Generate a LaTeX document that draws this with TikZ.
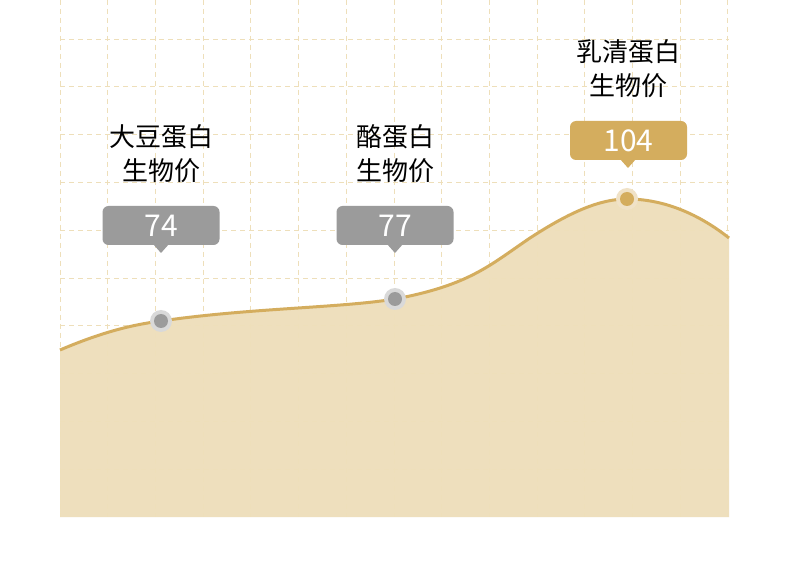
\documentclass[tikz,border=0pt]{standalone}
\usepackage{fontspec}
\setmainfont{Noto Sans CJK SC}
\definecolor{gold}{HTML}{D4AD5E}
\definecolor{fillc}{HTML}{EEDFBD}
\definecolor{gridc}{HTML}{EEDFBA}
\definecolor{pt}{HTML}{9B9B9B}
\begin{document}
\begin{tikzpicture}[x=1pt,y=-1pt,
  lab/.style={align=center,font=\fontsize{26}{34}\selectfont,text=black},
  valbox/.style={rounded corners=6pt,minimum width=117pt,minimum height=39pt,inner sep=0pt,text=white,font=\fontsize{30}{30}\selectfont},
  gridline/.style={gridc,dashed,line width=0.8pt,dash pattern=on 5pt off 4pt}]
\useasboundingbox[fill=white] (0,0) rectangle (790,585);
\path[fill=fillc] (60,350) .. controls (100,333) and (130,325) .. (161,321) .. controls (250,308) and (340,308) .. (395,299) .. controls (470,285) and (490,265) .. (530,238) .. controls (570,212) and (600,199) .. (627,199) .. controls (665,199) and (700,215) .. (729,238) -- (729,517) -- (60,517) -- cycle;
\foreach \i in {0,...,14} \draw[gridline] (60+47.7*\i,0) -- (60+47.7*\i,517);
\foreach \j in {0,...,9} \draw[gridline] (60,39+47.8*\j) -- (729,39+47.8*\j);
\draw[gold,line width=3pt] (60,350) .. controls (100,333) and (130,325) .. (161,321) .. controls (250,308) and (340,308) .. (395,299) .. controls (470,285) and (490,265) .. (530,238) .. controls (570,212) and (600,199) .. (627,199) .. controls (665,199) and (700,215) .. (729,238);
\fill[black!15] (161,321) circle (11);
\fill[pt] (161,321) circle (7) coordinate (p1);
\fill[black!15] (395,299) circle (11);
\fill[pt] (395,299) circle (7) coordinate (p2);
\fill[gold!35] (627,199) circle (11);
\fill[gold] (627,199) circle (7) coordinate (p3);
\node[valbox,fill=pt] (b1) at (161,225.5) {74};
\fill[pt] (153,244) -- (161,253) -- (169,244) -- cycle;
\node[valbox,fill=pt] (b2) at (395,225.5) {77};
\fill[pt] (387,244) -- (395,253) -- (403,244) -- cycle;
\node[valbox,fill=gold] (b3) at (628.5,140.5) {104};
\fill[gold] (620,159) -- (628,168) -- (636,159) -- cycle;
\node[lab] (l1) at (161,154) {大豆蛋白\\生物价};
\node[lab] (l2) at (395,154) {酪蛋白\\生物价};
\node[lab] (l3) at (628,69) {乳清蛋白\\生物价};
\end{tikzpicture}
\end{document}
